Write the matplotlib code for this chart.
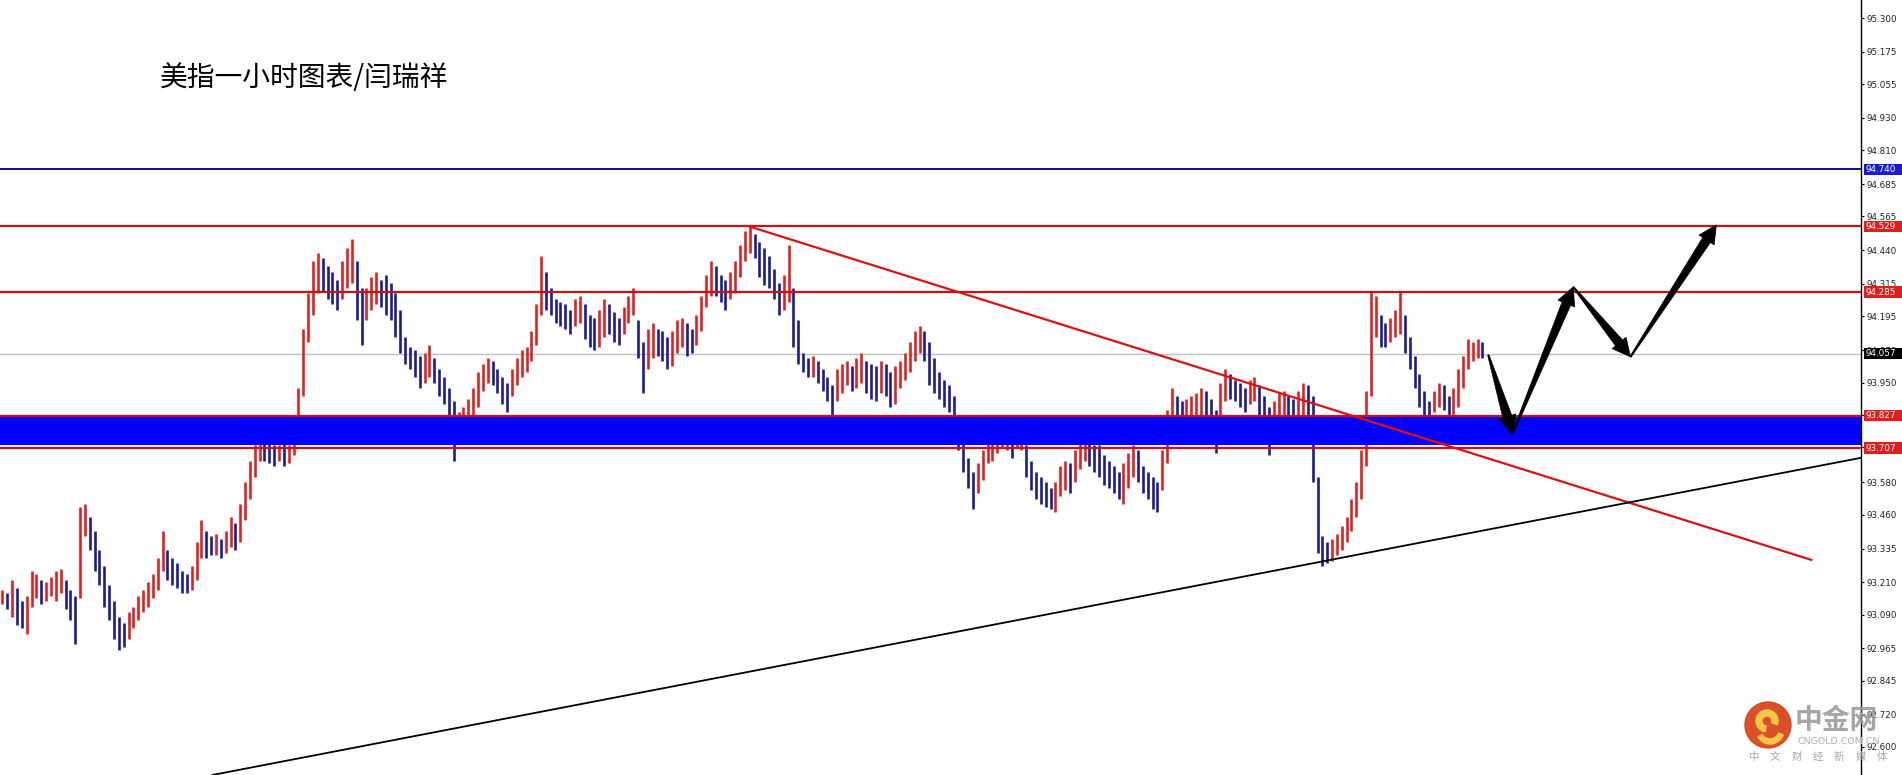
import numpy as np
import matplotlib
matplotlib.use('Agg')
import matplotlib.pyplot as plt
from matplotlib.patches import Rectangle, Polygon, Circle, Wedge

plt.rcParams['font.family'] = ['DejaVu Sans', 'Noto Sans CJK SC']

# hourly bars of the dollar index (high / low per bar)
highs = [
    93.18, 93.17, 93.22, 93.19, 93.14, 93.16, 93.25, 93.24, 93.22, 93.21,
    93.23, 93.25, 93.26, 93.22, 93.18, 93.16, 93.49, 93.50, 93.45, 93.40,
    93.33, 93.27, 93.20, 93.14, 93.08, 93.06, 93.10, 93.12, 93.16, 93.18,
    93.21, 93.24, 93.30, 93.40, 93.33, 93.30, 93.28, 93.25, 93.24, 93.27,
    93.36, 93.44, 93.40, 93.38, 93.39, 93.37, 93.40, 93.45, 93.43, 93.50,
    93.58, 93.66, 93.72, 93.75, 93.74, 93.73, 93.72, 93.72, 93.73, 93.72,
    93.80, 93.93, 94.15, 94.28, 94.40, 94.43, 94.41, 94.38, 94.36, 94.33,
    94.40, 94.45, 94.48, 94.40, 94.30, 94.30, 94.34, 94.36, 94.33, 94.35,
    94.32, 94.28, 94.22, 94.12, 94.08, 94.07, 94.05, 94.06, 94.09, 94.04,
    94.00, 93.97, 93.93, 93.88, 93.84, 93.86, 93.89, 93.93, 93.99, 94.02,
    94.04, 94.03, 94.00, 93.97, 93.95, 94.00, 94.04, 94.07, 94.08, 94.14,
    94.24, 94.42, 94.36, 94.30, 94.26, 94.25, 94.24, 94.22, 94.26, 94.27,
    94.24, 94.20, 94.19, 94.22, 94.26, 94.24, 94.21, 94.19, 94.23, 94.27,
    94.30, 94.18, 94.10, 94.15, 94.17, 94.15, 94.14, 94.12, 94.14, 94.18,
    94.19, 94.17, 94.15, 94.20, 94.27, 94.35, 94.40, 94.38, 94.35, 94.33,
    94.36, 94.40, 94.46, 94.51, 94.53, 94.50, 94.47, 94.45, 94.42, 94.37,
    94.32, 94.35, 94.46, 94.30, 94.18, 94.06, 94.04, 94.05, 94.03, 94.00,
    93.97, 93.94, 94.00, 94.02, 94.03, 94.01, 94.04, 94.06, 94.03, 94.02,
    94.01, 94.03, 94.02, 93.99, 94.01, 94.03, 94.06, 94.10, 94.14, 94.16,
    94.14, 94.10, 94.04, 93.99, 93.96, 93.94, 93.90, 93.82, 93.74, 93.67,
    93.62, 93.65, 93.70, 93.74, 93.75, 93.79, 93.80, 93.81, 93.79, 93.82,
    93.83, 93.72, 93.66, 93.62, 93.60, 93.58, 93.56, 93.58, 93.64, 93.66,
    93.65, 93.70, 93.76, 93.78, 93.74, 93.72, 93.72, 93.68, 93.66, 93.64,
    93.62, 93.65, 93.69, 93.72, 93.70, 93.64, 93.62, 93.60, 93.58, 93.70,
    93.85, 93.93, 93.90, 93.88, 93.89, 93.90, 93.91, 93.93, 93.92, 93.89,
    93.85, 93.95, 94.00, 93.98, 93.96, 93.95, 93.93, 93.96, 93.97, 93.94,
    93.90, 93.86, 93.88, 93.91, 93.92, 93.90, 93.89, 93.92, 93.95, 93.94,
    93.90, 93.60, 93.38, 93.36, 93.37, 93.39, 93.42, 93.45, 93.52, 93.58,
    93.70, 93.92, 94.29, 94.27, 94.20, 94.17, 94.19, 94.22, 94.29, 94.20,
    94.12, 94.05, 93.98, 93.92, 93.88, 93.92, 93.95, 93.94, 93.90, 93.93,
    94.00, 94.05, 94.11, 94.10, 94.11, 94.10,
]
lows = [
    93.13, 93.11, 93.08, 93.05, 93.04, 93.02, 93.12, 93.15, 93.13, 93.14,
    93.16, 93.14, 93.17, 93.11, 93.07, 92.98, 93.15, 93.38, 93.33, 93.25,
    93.20, 93.12, 93.07, 93.00, 92.96, 92.97, 93.00, 93.04, 93.07, 93.10,
    93.12, 93.15, 93.18, 93.25, 93.22, 93.20, 93.19, 93.17, 93.17, 93.18,
    93.22, 93.30, 93.30, 93.31, 93.31, 93.30, 93.32, 93.34, 93.33, 93.36,
    93.44, 93.52, 93.60, 93.66, 93.66, 93.65, 93.64, 93.66, 93.64, 93.65,
    93.68, 93.78, 93.90, 94.10, 94.20, 94.28, 94.29, 94.26, 94.24, 94.22,
    94.26, 94.30, 94.32, 94.18, 94.09, 94.18, 94.22, 94.24, 94.23, 94.20,
    94.18, 94.12, 94.06, 94.02, 94.00, 93.97, 93.93, 93.95, 93.97, 93.95,
    93.90, 93.87, 93.80, 93.66, 93.76, 93.78, 93.80, 93.82, 93.86, 93.92,
    93.95, 93.94, 93.91, 93.87, 93.84, 93.90, 93.94, 93.97, 93.99, 94.03,
    94.09, 94.20, 94.22, 94.20, 94.17, 94.16, 94.15, 94.13, 94.16, 94.17,
    94.11, 94.08, 94.07, 94.08, 94.12, 94.13, 94.10, 94.09, 94.13, 94.17,
    94.20, 94.04, 93.91, 94.00, 94.04, 94.05, 94.03, 94.00, 94.01, 94.06,
    94.08, 94.05, 94.06, 94.09, 94.14, 94.23, 94.27, 94.27, 94.25, 94.22,
    94.26, 94.28, 94.34, 94.40, 94.43, 94.41, 94.34, 94.31, 94.30, 94.26,
    94.20, 94.22, 94.25, 94.08, 94.02, 93.99, 93.97, 93.97, 93.95, 93.92,
    93.88, 93.77, 93.88, 93.91, 93.94, 93.92, 93.93, 93.95, 93.91, 93.89,
    93.88, 93.91, 93.90, 93.86, 93.87, 93.93, 93.96, 93.99, 94.03, 94.06,
    94.03, 93.94, 93.91, 93.89, 93.86, 93.84, 93.77, 93.70, 93.62, 93.56,
    93.48, 93.54, 93.59, 93.65, 93.66, 93.69, 93.71, 93.70, 93.67, 93.71,
    93.70, 93.60, 93.55, 93.52, 93.50, 93.49, 93.48, 93.47, 93.53, 93.55,
    93.54, 93.58, 93.63, 93.66, 93.64, 93.62, 93.60, 93.57, 93.56, 93.54,
    93.52, 93.50, 93.56, 93.60, 93.58, 93.54, 93.52, 93.48, 93.47, 93.55,
    93.65, 93.80, 93.80, 93.79, 93.80, 93.81, 93.82, 93.83, 93.82, 93.78,
    93.69, 93.76, 93.88, 93.89, 93.88, 93.86, 93.84, 93.87, 93.88, 93.82,
    93.76, 93.68, 93.75, 93.80, 93.82, 93.80, 93.78, 93.80, 93.83, 93.82,
    93.58, 93.32, 93.27, 93.28, 93.29, 93.31, 93.33, 93.36, 93.40, 93.45,
    93.52, 93.64, 93.90, 94.12, 94.08, 94.08, 94.10, 94.12, 94.13, 94.06,
    94.00, 93.93, 93.86, 93.82, 93.82, 93.84, 93.86, 93.85, 93.82, 93.82,
    93.86, 93.93, 94.00, 94.03, 94.04, 94.04,
]

# right price scale (MT4 style, uneven steps)
tick_vals = [95.300, 95.175, 95.055, 94.930, 94.810, 94.685, 94.565, 94.440,
             94.315, 94.195, 94.070, 93.950, 93.830, 93.710, 93.580, 93.460,
             93.335, 93.210, 93.090, 92.965, 92.845, 92.720, 92.600]

# levels drawn on the chart
level_blue = 94.740
levels_red = [94.529, 94.285]
last_price = 94.057
zone_top, zone_bottom = 93.827, 93.707
tag_prices = [94.740, 94.529, 94.285, 94.057, 93.827, 93.707]
tag_colors = ['#1a1ad6', '#e01e1e', '#e01e1e', '#000000', '#e01e1e', '#e01e1e']

# trend lines (bar index, price)
down_trend_x = [153.75, 372.75]
down_trend_y = [94.529, 93.293]
up_trend_x = [43.25, 383.0]
up_trend_y = [92.496, 93.671]

# projected path (arrows)
path_x = [306.2, 311.2, 323.7, 335.5, 353.2]
path_y = [94.052, 93.760, 94.304, 94.045, 94.534]

title = '美指一小时图表/闫瑞祥'

fig = plt.figure(figsize=(19.02, 7.75), dpi=100)
ax = fig.add_axes([0, 0, 1861 / 1902, 1])
ax.set_xlim(-0.5, 383.0)
ax.set_ylim(92.496, 95.367)

x = np.arange(len(highs))
mids = (np.array(highs) + np.array(lows)) / 2
cols = ['#dd2222' if i == 0 or mids[i] >= mids[i - 1] else '#1c1c8e' for i in range(len(mids))]
ax.vlines(x, lows, highs, colors=cols, linewidth=1.9, zorder=2)

ax.axhline(level_blue, color='#000080', lw=1.3, zorder=4)
for lv in levels_red:
    ax.axhline(lv, color='#cc1111', lw=1.6, zorder=4)
ax.axhline(last_price, color='#c0c0c0', lw=1.0, zorder=1)
ax.axhspan(zone_bottom + 0.011, zone_top, color='#0000ff', lw=0, zorder=3)
ax.axhline(zone_top, color='#cc1111', lw=1.6, zorder=4)
ax.axhline(zone_bottom, color='#cc1111', lw=1.6, zorder=4)

ax.plot(down_trend_x, down_trend_y, color='#dd1111', lw=1.6, zorder=5)
ax.plot(up_trend_x, up_trend_y, color='black', lw=1.3, zorder=5)


def arrow(x0, y0, x1, y1):
    p0 = ax.transData.transform((x0, y0))
    p1 = ax.transData.transform((x1, y1))
    d = p1 - p0
    L = np.hypot(*d)
    u = d / L
    n = np.array([-u[1], u[0]])
    hl, hw, sw, s0 = 18.0, 9.0, 4.6, 0.7
    base = p1 - u * hl
    pts = [p0 + n * s0, base + n * sw, base + n * hw, p1,
           base - n * hw, base - n * sw, p0 - n * s0]
    pts = ax.transData.inverted().transform(np.array(pts))
    ax.add_patch(Polygon(pts, closed=True, facecolor='black', edgecolor='black',
                         lw=0.5, zorder=6))


for k in range(len(path_x) - 1):
    arrow(path_x[k], path_y[k], path_x[k + 1], path_y[k + 1])

ax.yaxis.tick_right()
ax.set_yticks(tick_vals)
ax.set_yticklabels([f'{v:.3f}' for v in tick_vals])
ax.tick_params(axis='y', direction='out', length=2.5, pad=1.5, labelsize=6.3,
               labelcolor='#222222', width=0.8)
ax.set_xticks([])
for s in ['top', 'left', 'bottom']:
    ax.spines[s].set_visible(False)
ax.spines['right'].set_linewidth(1.0)
ax.spines['right'].set_color('black')

ytr = ax.get_yaxis_transform()
for p, c in zip(tag_prices, tag_colors):
    ax.add_patch(Rectangle((1.0017, p - 0.021), 0.0205, 0.042, transform=ytr,
                           facecolor=c, edgecolor='none', clip_on=False, zorder=10))
    ax.text(1.0025, p, f'{p:.3f}', transform=ytr, color='white', fontsize=6.3,
            va='center', ha='left', clip_on=False, zorder=11)

fig.text(160 / 1902, 1 - 78 / 775, title, fontsize=20,
         family=['Noto Sans CJK SC', 'DejaVu Sans'], va='center', ha='left')

# watermark
ov = fig.add_axes([0, 0, 1, 1], zorder=20)
ov.set_xlim(0, 1902)
ov.set_ylim(775, 0)
ov.axis('off')
ov.add_patch(Circle((1768, 725), 23, color='#d8461c', alpha=0.95))
ov.add_patch(Wedge((1767, 721), 11, 100, 20, width=6, color='#f7c646'))
ov.add_patch(Wedge((1770, 730), 14, 20, 150, width=5, color='#f7c646'))
ov.text(1795, 721, '中金网', fontsize=20, color='#9c9c9c', weight='bold', alpha=0.9,
        family=['Noto Sans CJK SC'], va='center', ha='left')
ov.text(1797, 742, 'CNGOLD.COM.CN', fontsize=6.8, color='#b0b0b0', va='center', ha='left')
for k, ch in enumerate('中文财经新媒体'):
    ov.text(1754 + k * 21.3, 757, ch, fontsize=7.5, color='#a8a8a8',
            family=['Noto Sans CJK SC'], va='center', ha='center')

fig.savefig('out.png', dpi=100)
